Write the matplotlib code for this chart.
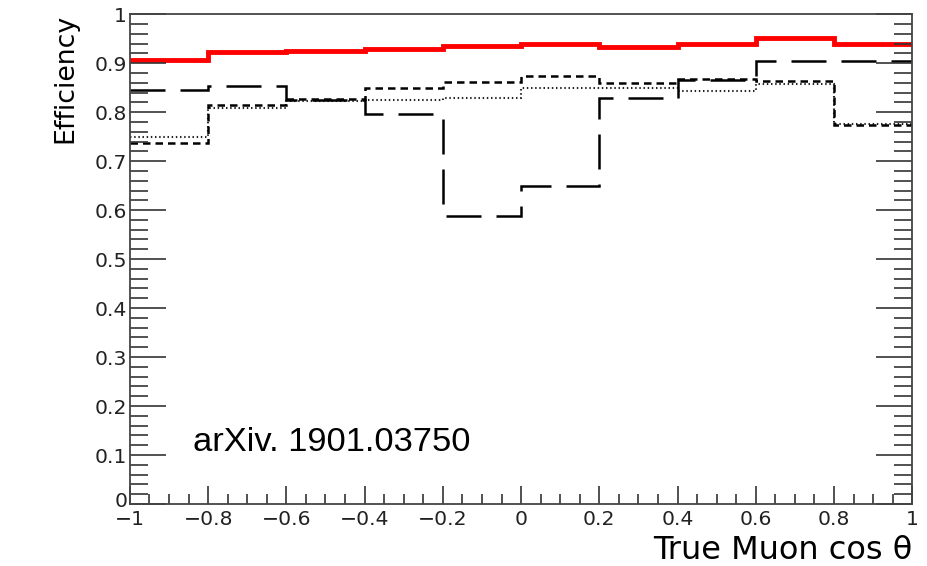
import numpy as np
import matplotlib.pyplot as plt
from matplotlib.ticker import MultipleLocator
from matplotlib.transforms import ScaledTranslation

# bin edges in true muon cos(theta)
edges = np.linspace(-1, 1, 11)

# efficiencies per bin
eff_red = [0.906, 0.922, 0.925, 0.929, 0.935, 0.939, 0.933, 0.939, 0.951, 0.939]
eff_longdash = [0.845, 0.853, 0.824, 0.796, 0.588, 0.649, 0.828, 0.865, 0.904, 0.904]
eff_shortdash = [0.737, 0.814, 0.826, 0.849, 0.861, 0.873, 0.859, 0.867, 0.863, 0.773]
eff_dotted = [0.749, 0.808, 0.822, 0.824, 0.828, 0.849, 0.849, 0.843, 0.857, 0.776]

xticks = [-1, -0.8, -0.6, -0.4, -0.2, 0, 0.2, 0.4, 0.6, 0.8, 1]
yticks = [0, 0.1, 0.2, 0.3, 0.4, 0.5, 0.6, 0.7, 0.8, 0.9, 1]

fig = plt.figure(figsize=(9.28, 5.66), dpi=100)
ax = fig.add_axes([0.140, 0.1095, 0.843, 0.8655])

ax.stairs(eff_dotted, edges, baseline=None, color='#222222', lw=1.5, linestyle=(0, (0.7, 1.3)))
ax.stairs(eff_shortdash, edges, baseline=None, color='black', lw=1.8, linestyle=(0, (3, 2)))
ax.stairs(eff_longdash, edges, baseline=None, color='black', lw=1.8, linestyle=(0, (14, 6)))
ax.stairs(eff_red, edges, baseline=None, color='red', lw=3.5)

ax.set_xlim(-1, 1)
ax.set_ylim(0, 1)

ax.xaxis.set_minor_locator(MultipleLocator(0.05))
ax.yaxis.set_minor_locator(MultipleLocator(0.02))
ax.set_xticks(xticks)
ax.set_xticklabels(['\u22121', '\u22120.8', '\u22120.6', '\u22120.4', '\u22120.2',
                    '0', '0.2', '0.4', '0.6', '0.8', '1'])
ax.set_yticks(yticks)
ax.set_yticklabels(['0', '0.1', '0.2', '0.3', '0.4', '0.5', '0.6', '0.7', '0.8', '0.9', '1'])

ax.tick_params(axis='both', which='both', direction='in', colors='#333333',
               labelcolor='#222222', labelsize=14.7, top=False, right=True)
ax.tick_params(axis='y', which='major', length=26, width=1.2, pad=2)
ax.tick_params(axis='y', which='minor', length=13, width=1.2)
ax.tick_params(axis='x', which='major', length=13, width=1.2, pad=4.5)
ax.tick_params(axis='x', which='minor', length=7, width=1.2)

# nudge the "0" on the y axis up a little so it clears the "-1" below it
zero_lab = ax.yaxis.get_major_ticks()[0].label1
zero_lab.set_transform(zero_lab.get_transform() + ScaledTranslation(0, 3 / 72, fig.dpi_scale_trans))

for sp in ax.spines.values():
    sp.set_color('#444444')
    sp.set_linewidth(1.3)

ax.set_ylabel('Efficiency', fontsize=19.3, loc='top', labelpad=12)
ax.set_xlabel('True Muon cos \u03b8', fontsize=23, loc='right', labelpad=4)

ax.text(0.081, 0.125, 'arXiv. 1901.03750', transform=ax.transAxes,
        family='Liberation Sans', fontsize=24.8, color='black', va='center', ha='left')

fig.savefig('out.png', dpi=100)
